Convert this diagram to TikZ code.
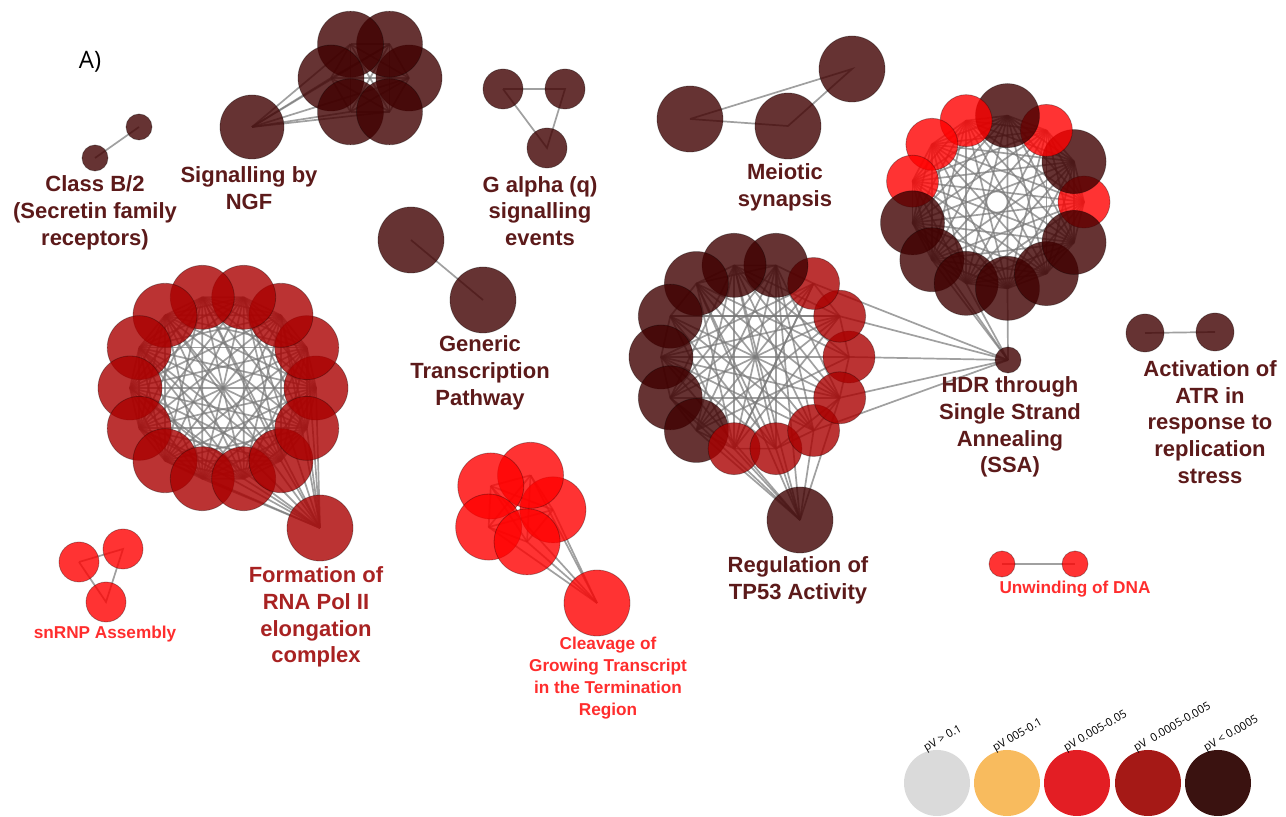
\documentclass[tikz,border=0pt]{standalone}
\usepackage{fontspec}
\setmainfont{Liberation Sans}
\newfontfamily\osans{Open Sans}
\pgfdeclarelayer{edges}
\pgfsetlayers{edges,main}
\definecolor{dkb}{RGB}{64,0,0}
\definecolor{rdb}{RGB}{255,0,0}
\definecolor{mdb}{RGB}{170,0,0}
\definecolor{edgec}{RGB}{120,120,120}
\definecolor{dklab}{RGB}{92,26,26}
\definecolor{mdlab}{RGB}{168,34,34}
\definecolor{rdlab}{RGB}{255,45,45}
\definecolor{lg1}{HTML}{DADADA}
\definecolor{lg2}{HTML}{F8BB5E}
\definecolor{lg3}{HTML}{E31E24}
\definecolor{lg4}{HTML}{A51916}
\definecolor{lg5}{HTML}{3A1210}
\tikzset{
  nd/.style={circle, inner sep=0pt, draw=black, draw opacity=0.3, line width=0.4pt, minimum size=#1},
  dk/.style={fill=dkb, fill opacity=0.8},
  rd/.style={fill=rdb, fill opacity=0.8},
  md/.style={fill=mdb, fill opacity=0.8},
  ed/.style={draw=edgec, line width=0.85pt, draw opacity=0.7},
  lab/.style={font=\bfseries\fontsize{11}{13.4}\selectfont, align=center, text=dklab, inner sep=0pt},
  slab/.style={font=\bfseries\fontsize{8.6}{10.9}\selectfont, align=center, text=rdlab, inner sep=0pt},
  lgc/.style={circle, inner sep=0pt, minimum size=33pt},
  lgt/.style={font=\osans\fontsize{5.6}{6}\selectfont, anchor=base west, rotate=30, inner sep=0pt}
}
\begin{document}
\begin{tikzpicture}[x=0.5pt,y=-0.5pt]
\useasboundingbox (0,0) rectangle (1286,817);

% ---------- Class B/2
\node[nd=13pt,dk] (cb1) at (95,158) {};
\node[nd=13pt,dk] (cb2) at (139,127) {};
\node[lab] (cbl) at (95,213) {Class B/2\\(Secretin family\\receptors)};

% ---------- Signalling by NGF
\foreach \i in {0,...,5}
  \node[nd=33pt,dk] (ng\i) at ({370+39*cos(\i*60)},{78-39*sin(\i*60)}) {};
\node[nd=32pt,dk] (ngs) at (252,127) {};
\node[lab] (ngl) at (249,188) {Signalling by\\NGF};

% ---------- G alpha (q)
\node[nd=20pt,dk] (ga1) at (503,89) {};
\node[nd=20pt,dk] (ga2) at (565,89) {};
\node[nd=20pt,dk] (ga3) at (547,148) {};
\node[lab] (gal) at (540,211) {G alpha (q)\\signalling\\events};

% ---------- Meiotic synapsis
\node[nd=33pt,dk] (me1) at (690,119) {};
\node[nd=33pt,dk] (me2) at (788,126) {};
\node[nd=33pt,dk] (me3) at (852,69) {};
\node[lab] (mel) at (785,187) {Meiotic\\synapsis};

% ---------- Generic Transcription Pathway
\node[nd=33pt,dk] (gt1) at (411,240) {};
\node[nd=33pt,dk] (gt2) at (483,300) {};
\node[lab] (gtl) at (480,373) {Generic\\Transcription\\Pathway};

% ---------- HDR ring
\foreach \i/\s/\z in {0/rd/26pt,1/dk/32pt,2/rd/26pt,3/dk/32pt,4/rd/26pt,5/rd/26pt,6/rd/26pt,7/dk/32pt,8/dk/32pt,9/dk/32pt,10/dk/32pt,11/dk/32pt,12/dk/32pt}
  \node[nd=\z,style=\s] (h\i) at ({997+87*cos(\i*360/13)},{202-87*sin(\i*360/13)}) {};
\node[nd=13pt,dk] (hdr) at (1008,360) {};
\node[lab] (hdrl) at (1010,427) {HDR through\\Single Strand\\Annealing\\(SSA)};

% ---------- TP53 ring
\foreach \i/\s/\z in {0/md/26pt,1/md/26pt,2/md/26pt,3/dk/32pt,4/dk/32pt,5/dk/32pt,6/dk/32pt,7/dk/32pt,8/dk/32pt,9/dk/32pt,10/md/26pt,11/md/26pt,12/md/26pt,13/md/26pt}
  \node[nd=\z,style=\s] (t\i) at ({755+94*cos(\i*360/14)},{357-94*sin(\i*360/14)}) {};
\node[nd=33pt,dk] (reg) at (800,520) {};
\node[lab] (regl) at (798,580) {Regulation of\\TP53 Activity};

% ---------- RNA Pol II ring
\foreach \i in {0,...,13}
  \node[nd=32pt,md] (r\i) at ({223+93*cos(\i*360/14)},{388-93*sin(\i*360/14)}) {};
\node[nd=33pt,md] (form) at (320,528) {};
\node[lab,text=mdlab] (forml) at (316,617) {Formation of\\RNA Pol II\\elongation\\complex};

% ---------- Cleavage
\foreach \i in {0,...,4}
  \node[nd=33pt,rd] (c\i) at ({518+35*cos(\i*72-3)},{508-35*sin(\i*72-3)}) {};
\node[nd=33pt,rd] (cs) at (597,603) {};
\node[slab] (cl) at (608,678) {Cleavage of\\Growing Transcript\\in the Termination\\Region};

% ---------- snRNP
\node[nd=20pt,rd] (sn1) at (79,562) {};
\node[nd=20pt,rd] (sn2) at (123,549) {};
\node[nd=20pt,rd] (sn3) at (106,602) {};
\node[slab] (snl) at (105,634) {snRNP Assembly};

% ---------- Unwinding of DNA
\node[nd=13pt,rd] (uw1) at (1002,564) {};
\node[nd=13pt,rd] (uw2) at (1075,564) {};
\node[slab] (uwl) at (1075,589) {Unwinding of DNA};

% ---------- ATR
\node[nd=19pt,dk] (at1) at (1145,333) {};
\node[nd=19pt,dk] (at2) at (1215,332) {};
\node[lab] (atl) at (1210,422) {Activation of\\ATR in\\response to\\replication\\stress};

% ---------- A)
\node[font=\osans\fontsize{12}{14}\selectfont, inner sep=0pt] (alab) at (90,62) {A)};

% ---------- Legend
\node[lgc,fill=lg1] (lg1) at (937,783) {};
\node[lgc,fill=lg2] (lg2) at (1007,783) {};
\node[lgc,fill=lg3] (lg3) at (1077,783) {};
\node[lgc,fill=lg4] (lg4) at (1148,783) {};
\node[lgc,fill=lg5] (lg5) at (1218,783) {};
\node[lgt] (lt1) at (926,752) {pV > 0.1};
\node[lgt] (lt2) at (995,752) {pV 005-0.1};
\node[lgt] (lt3) at (1066,752) {pV 0.005-0.05};
\node[lgt] (lt4) at (1136,752) {pV \ 0.0005-0.005};
\node[lgt] (lt5) at (1206,752) {pV < 0.0005};

% ---------- Edges
\begin{pgfonlayer}{edges}
\draw[ed] (cb1.center) -- (cb2.center);
\foreach \i in {0,...,5}{
  \draw[ed] (ngs.center) -- (ng\i.center);
  \foreach \j in {0,...,5}{\ifnum\i<\j \draw[ed] (ng\i.center) -- (ng\j.center);\fi}
}
\draw[ed] (ga1.center) -- (ga2.center) -- (ga3.center) -- (ga1.center);
\draw[ed] (me1.center) -- (me2.center) -- (me3.center) -- (me1.center);
\draw[ed] (gt1.center) -- (gt2.center);
\foreach \i in {0,...,12}{
  \foreach \j in {0,...,12}{\ifnum\i<\j \draw[ed] (h\i.center) -- (h\j.center);\fi}
}
\foreach \i in {0,...,13}{
  \foreach \j in {0,...,13}{\ifnum\i<\j \draw[ed] (r\i.center) -- (r\j.center);\fi}
  \draw[ed] (form.center) -- (r\i.center);
}
\foreach \i in {0,...,13}{
  \pgfmathtruncatemacro\a{mod(\i+1,14)}
  \draw[ed] (t\i.center) -- (t\a.center);
}
\foreach \i/\j in {3/10,3/11,3/9,3/12,4/10,4/11,4/9,4/8,4/12,4/13,2/9,2/10,2/8,5/10,5/11,5/12,5/13,5/0,6/11,6/12,6/13,6/1,7/12,7/13,7/0,7/1,8/13,8/1,9/1,9/0,10/1,10/2,3/8,2/7,1/6,13/3,6/10,7/11,0/4,1/4,3/5,8/10,11/13}
  \draw[ed] (t\i.center) -- (t\j.center);
\foreach \i in {7,8,9,10,11,12,13,3,4,5}
  \draw[ed] (reg.center) -- (t\i.center);
\foreach \i in {0,1,2,12,13}
  \draw[ed] (hdr.center) -- (t\i.center);
\foreach \i in {7,8,9,10}
  \draw[ed] (hdr.center) -- (h\i.center);
\foreach \i in {0,...,4}{
  \draw[ed] (cs.center) -- (c\i.center);
  \foreach \j in {0,...,4}{\ifnum\i<\j \draw[ed] (c\i.center) -- (c\j.center);\fi}
}
\draw[ed] (sn1.center) -- (sn2.center) -- (sn3.center) -- (sn1.center);
\draw[ed] (uw1.center) -- (uw2.center);
\draw[ed] (at1.center) -- (at2.center);
\end{pgfonlayer}
\end{tikzpicture}
\end{document}
